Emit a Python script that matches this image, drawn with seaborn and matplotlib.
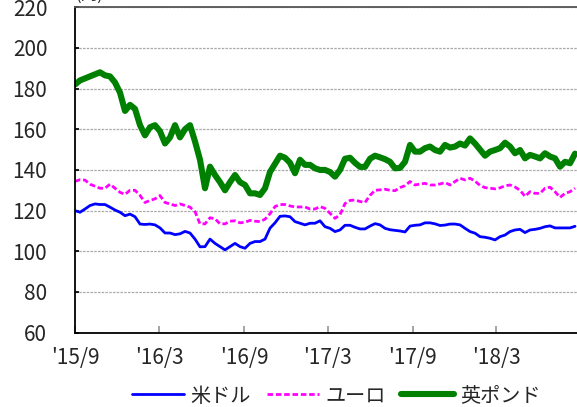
"""Recreate yen exchange rate line chart (USD / EUR / GBP)."""

import pandas as pd
import matplotlib
matplotlib.use("Agg")
import matplotlib.pyplot as plt
import seaborn as sns

# sample dates (about every 11 days, Sep 2015 - Aug 2018)
dates = pd.date_range("2015-09-01", "2018-08-18", periods=101)

usd = [120, 119.2, 120.8, 122.5, 123.3, 123, 123, 121.7, 120.3, 119.2,
       117.5, 118.3, 117, 113.4, 113.2, 113.4, 113, 111.5, 109, 109,
       108.2, 108.6, 109.8, 109, 106, 102.2, 102.3, 106, 103.9, 102.3,
       100.7, 102.3, 103.9, 102.3, 101.5, 103.9, 104.8, 104.8, 106, 111.4,
       114, 117.2, 117.4, 117, 114.6, 113.8, 113, 113.8, 113.8, 115,
       112.1, 111.3, 109.7, 110.5, 112.8, 112.8, 111.8, 111, 111, 112.4,
       113.6, 113, 111.3, 110.6, 110.3, 110, 109.5, 112.4, 112.8, 113,
       114, 114, 113.5, 112.7, 112.9, 113.4, 113.4, 113, 111.3, 109.7,
       108.9, 107.2, 106.9, 106.4, 105.6, 107.2, 108, 109.7, 110.5, 110.8,
       109.2, 110.5, 110.8, 111.3, 112.1, 112.5, 111.5, 111.5, 111.5, 111.5,
       112.3]

eur = [134.4, 135.2, 135, 133, 132, 131, 131, 133, 131, 129,
       128, 130, 130, 127.5, 124, 125, 125.8, 127.4, 124, 123.3,
       122.5, 123.3, 122.5, 121.7, 119.5, 113.5, 113.5, 116.5, 116, 113.5,
       113.5, 114.8, 115, 114, 114.3, 115.2, 114.8, 114.6, 115.8, 118.5,
       122, 123, 123, 122.3, 121.8, 121.8, 121.8, 120.8, 120.8, 122,
       121.1, 118.7, 116.2, 118, 123.5, 125, 125.2, 124.5, 124, 127.5,
       130, 130.2, 130.5, 130, 129.8, 131.3, 132.3, 134.3, 132.6, 133.1,
       133.4, 132.6, 132.6, 133.1, 133.8, 132.6, 134.3, 135.9, 135.1, 135.9,
       134.5, 132.4, 131.3, 131, 130.7, 131.2, 132.2, 132.6, 131.6, 130,
       127, 129.3, 128.5, 128.5, 131, 131.5, 129.3, 126.5, 128.5, 129.3,
       131]

gbp = [182, 184, 185, 186, 187, 188, 186.5, 186, 183, 178,
       169, 172, 170, 162, 157, 161, 162, 159, 153, 156,
       162, 156, 160, 162, 154, 145, 131, 141.6, 137.5, 134,
       130, 134, 137.5, 134, 132.6, 128.5, 128.5, 127.7, 131, 139,
       143, 147, 146, 143.5, 138.4, 145, 142.5, 142.5, 140.8, 140,
       140, 139, 136.7, 140, 145.5, 146, 143.5, 141.5, 141.5, 145.5,
       147, 146.2, 145.3, 144, 140.8, 141, 144, 152.3, 149, 149,
       150.7, 151.5, 149.8, 149, 152.3, 151, 151.5, 153, 152, 155.5,
       153, 150, 147, 149, 149.8, 150.7, 153.4, 151.5, 148.2, 149.8,
       145.7, 147.4, 146.6, 145.7, 148.2, 146.6, 145.7, 141.6, 144, 143.3,
       148]

series_names = ["米ドル", "ユーロ", "英ポンド"]
tick_dates = pd.date_range("2015-09-01", "2018-03-01", freq="6MS")
tick_labels = ["'15/9", "'16/3", "'16/9", "'17/3", "'17/9", "'18/3"]

sns.set_theme(style="white")
plt.rcParams["font.family"] = ["Noto Sans CJK JP", "DejaVu Sans"]

fig = plt.figure(figsize=(5.77, 4.07), dpi=100)
ax = fig.add_axes([75 / 577, 0.1826, 506.5 / 577, 0.7997])

sns.lineplot(x=dates, y=usd, ax=ax, color="#0000ff", linewidth=2.0,
             label=series_names[0])
sns.lineplot(x=dates, y=eur, ax=ax, color="#ff00ff", linewidth=2.0,
             linestyle=(0, (2, 1)), label=series_names[1])
sns.lineplot(x=dates, y=gbp, ax=ax, color="#008000", linewidth=4.4,
             label=series_names[2])

ax.set_ylim(60, 220)
ax.set_yticks(range(60, 221, 20))
ax.set_xlim(pd.Timestamp("2015-09-01"), pd.Timestamp("2018-09-01"))
ax.set_xticks(tick_dates)
ax.set_xticklabels(tick_labels)
ax.set_xlabel("")
ax.set_ylabel("")

ax.grid(axis="y", color="#aaaaaa", linestyle=(0, (2, 1)), linewidth=0.9)
ax.tick_params(axis="y", direction="in", length=3, color="black",
               labelsize=15, pad=20, left=True)
ax.tick_params(axis="x", direction="in", length=5, color="#999999",
               labelsize=15, pad=10, bottom=True)

for side in ["left", "bottom"]:
    ax.spines[side].set_color("black")
    ax.spines[side].set_linewidth(1.3)
ax.spines["top"].set_color("#555555")
ax.spines["top"].set_linewidth(1.3)
ax.spines["right"].set_color("#555555")

# unit label, mostly cut off at the top edge as in the source image
fig.text(75 / 577, 1 - 4 / 407, "(円)", fontsize=12, va="bottom")

ax.legend(loc="center", bbox_to_anchor=(336 / 577, 11 / 407),
          bbox_transform=fig.transFigure, ncol=3, frameon=False,
          handlelength=2.6, handletextpad=0.3, columnspacing=0.8,
          prop={"size": 14.5})

fig.savefig("out.png", dpi=100, facecolor="white")
plt.close(fig)
